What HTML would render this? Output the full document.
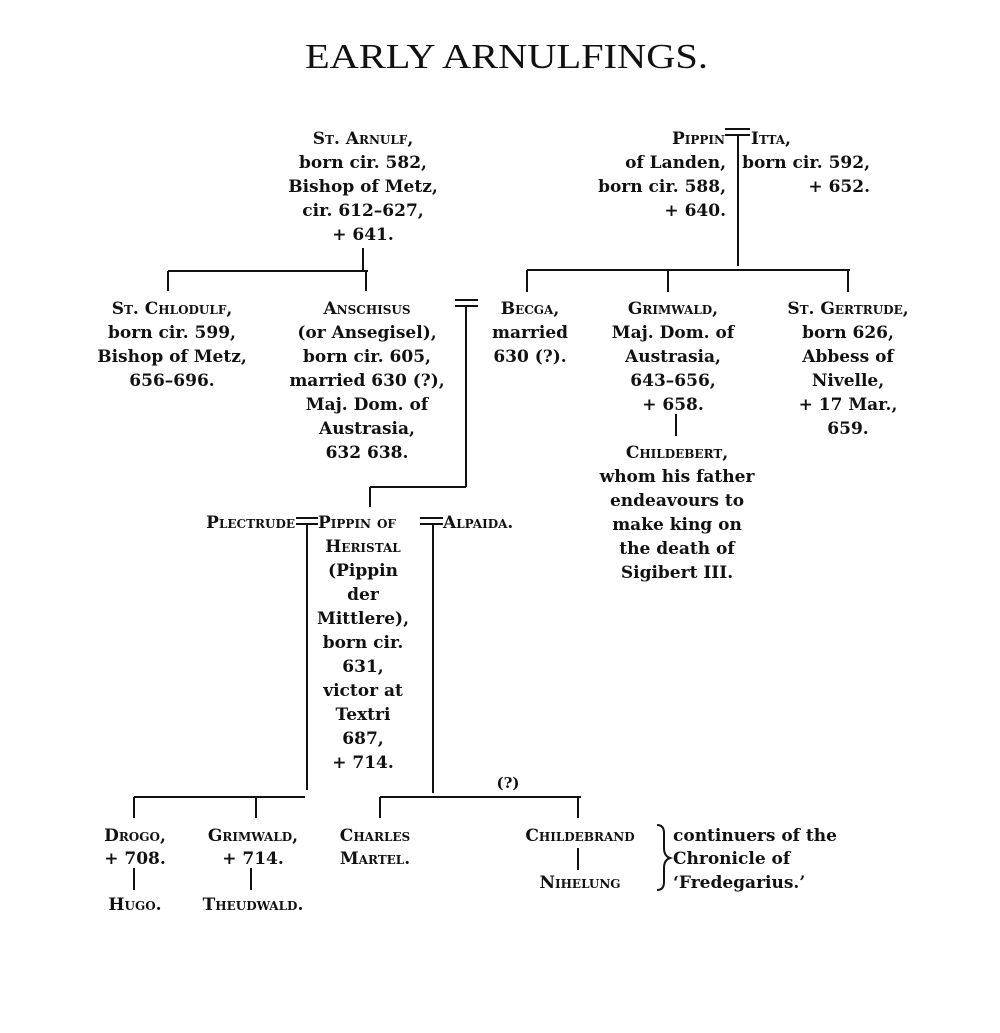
<!DOCTYPE html>
<html><head><meta charset="utf-8"><style>
html,body{margin:0;padding:0;background:#fff;}
svg{display:block;}
text{font-family:"DejaVu Serif","Liberation Serif",serif;font-weight:bold;font-size:17px;fill:#111;}
.sc{font-variant:small-caps;}
.t{font-family:"Liberation Serif",serif;font-weight:normal;font-size:35px;}
</style></head><body>
<svg width="1000" height="1033" viewBox="0 0 1000 1033" xmlns="http://www.w3.org/2000/svg">
<text class="t" x="305" y="68" textLength="403" lengthAdjust="spacingAndGlyphs">EARLY ARNULFINGS.</text>
<g stroke="#111" stroke-width="2" fill="none">
<line x1="363" y1="248" x2="363" y2="271"/>
<line x1="168" y1="271" x2="368" y2="271"/>
<line x1="168" y1="271" x2="168" y2="291"/>
<line x1="366" y1="271" x2="366" y2="291"/>
<line x1="455" y1="300" x2="478" y2="300"/>
<line x1="455" y1="306" x2="478" y2="306"/>
<line x1="466" y1="306" x2="466" y2="487"/>
<line x1="370" y1="487" x2="466" y2="487"/>
<line x1="370" y1="487" x2="370" y2="507"/>
<line x1="725" y1="129" x2="750" y2="129"/>
<line x1="725" y1="135" x2="750" y2="135"/>
<line x1="738" y1="135" x2="738" y2="266"/>
<line x1="527" y1="270" x2="850" y2="270"/>
<line x1="527" y1="270" x2="527" y2="292"/>
<line x1="668" y1="270" x2="668" y2="292"/>
<line x1="848" y1="270" x2="848" y2="292"/>
<line x1="676" y1="414" x2="676" y2="436"/>
<line x1="296" y1="518" x2="318" y2="518"/>
<line x1="296" y1="524" x2="318" y2="524"/>
<line x1="307" y1="524" x2="307" y2="790"/>
<line x1="420" y1="518" x2="443" y2="518"/>
<line x1="420" y1="524" x2="443" y2="524"/>
<line x1="433" y1="524" x2="433" y2="793"/>
<line x1="134" y1="797" x2="305" y2="797"/>
<line x1="134" y1="797" x2="134" y2="818"/>
<line x1="256" y1="797" x2="256" y2="818"/>
<line x1="380" y1="797" x2="581" y2="797"/>
<line x1="380" y1="797" x2="380" y2="818"/>
<line x1="578" y1="797" x2="578" y2="818"/>
<line x1="134" y1="868" x2="134" y2="890"/>
<line x1="251" y1="868" x2="251" y2="890"/>
<line x1="578" y1="848" x2="578" y2="870"/>
</g>
<path d="M657 825 Q664 825 664 833 L664 848 Q664 856 670 858 Q664 860 664 868 L664 882 Q664 890 657 890" stroke="#111" stroke-width="2" fill="none"/>

<g text-anchor="middle">
<text x="363" y="144" class="sc">St. Arnulf,</text>
<text x="363" y="168">born cir. 582,</text>
<text x="363" y="192">Bishop of Metz,</text>
<text x="363" y="216">cir. 612–627,</text>
<text x="363" y="240">+ 641.</text>

<text x="172" y="314" class="sc">St. Chlodulf,</text>
<text x="172" y="338">born cir. 599,</text>
<text x="172" y="362">Bishop of Metz,</text>
<text x="172" y="386">656–696.</text>

<text x="367" y="314" class="sc">Anschisus</text>
<text x="367" y="338">(or Ansegisel),</text>
<text x="367" y="362">born cir. 605,</text>
<text x="367" y="386">married 630 (?),</text>
<text x="367" y="410">Maj. Dom. of</text>
<text x="367" y="434">Austrasia,</text>
<text x="367" y="458">632 638.</text>

<text x="530" y="314" class="sc">Becga,</text>
<text x="530" y="338">married</text>
<text x="530" y="362">630 (?).</text>

<text x="673" y="314" class="sc">Grimwald,</text>
<text x="673" y="338">Maj. Dom. of</text>
<text x="673" y="362">Austrasia,</text>
<text x="673" y="386">643–656,</text>
<text x="673" y="410">+ 658.</text>

<text x="677" y="458" class="sc">Childebert,</text>
<text x="677" y="482">whom his father</text>
<text x="677" y="506">endeavours to</text>
<text x="677" y="530">make king on</text>
<text x="677" y="554">the death of</text>
<text x="677" y="578">Sigibert III.</text>

<text x="848" y="314" class="sc">St. Gertrude,</text>
<text x="848" y="338">born 626,</text>
<text x="848" y="362">Abbess of</text>
<text x="848" y="386">Nivelle,</text>
<text x="848" y="410">+ 17 Mar.,</text>
<text x="848" y="434">659.</text>

<text x="363" y="552" class="sc">Heristal</text>
<text x="363" y="576">(Pippin</text>
<text x="363" y="600">der</text>
<text x="363" y="624">Mittlere),</text>
<text x="363" y="648">born cir.</text>
<text x="363" y="672">631,</text>
<text x="363" y="696">victor at</text>
<text x="363" y="720">Textri</text>
<text x="363" y="744">687,</text>
<text x="363" y="768">+ 714.</text>

<text x="508" y="788" style="font-size:15px">(?)</text>
<text x="135" y="841" class="sc">Drogo,</text>
<text x="135" y="864">+ 708.</text>
<text x="135" y="910" class="sc">Hugo.</text>
<text x="253" y="841" class="sc">Grimwald,</text>
<text x="253" y="864">+ 714.</text>
<text x="253" y="910" class="sc">Theudwald.</text>
<text x="375" y="841" class="sc">Charles</text>
<text x="375" y="864" class="sc">Martel.</text>
<text x="580" y="841" class="sc">Childebrand</text>
<text x="580" y="888" class="sc">Nihelung</text>
</g>
<text x="295" y="528" class="sc" text-anchor="end">Plectrude</text>
<text x="318" y="528" class="sc">Pippin of</text>
<text x="443" y="528" class="sc">Alpaida.</text>
<text x="725" y="144" class="sc" text-anchor="end">Pippin</text>
<text x="751" y="144" class="sc">Itta,</text>
<text x="726" y="168" text-anchor="end">of Landen,</text>
<text x="726" y="192" text-anchor="end">born cir. 588,</text>
<text x="726" y="216" text-anchor="end">+ 640.</text>
<text x="870" y="168" text-anchor="end">born cir. 592,</text>
<text x="870" y="192" text-anchor="end">+ 652.</text>
<text x="673" y="841">continuers of the</text>
<text x="673" y="864">Chronicle of</text>
<text x="673" y="888">‘Fredegarius.’</text>
</svg>
</body></html>
